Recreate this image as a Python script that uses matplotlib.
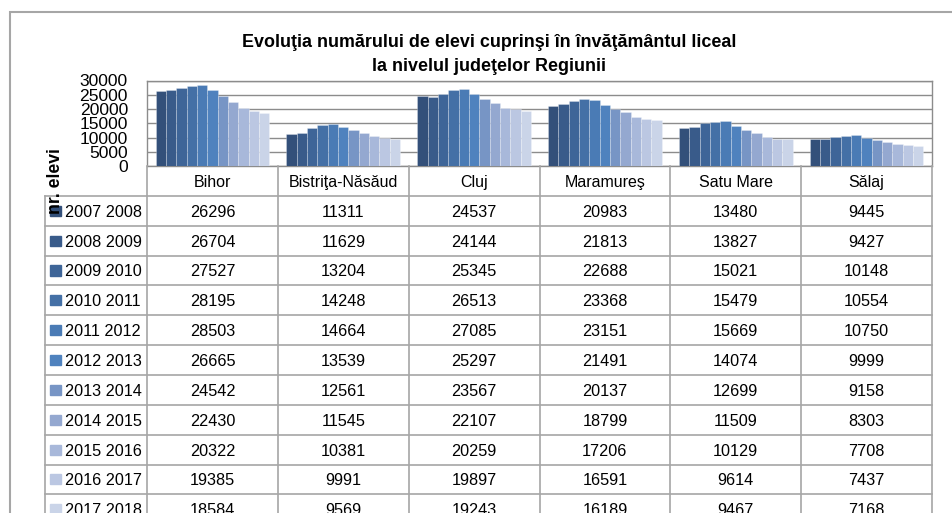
#!/usr/bin/env python3
"""Evolutia numarului de elevi din liceu pe judete - bar chart with data table."""

import numpy as np
import matplotlib.pyplot as plt
from matplotlib.patches import Rectangle

plt.rcParams["font.family"] = ["Liberation Sans", "DejaVu Sans"]

TITLE_1 = "Evoluţia numărului de elevi cuprinşi în învăţământul liceal"
TITLE_2 = "la nivelul judeţelor Regiunii"
YLABEL = "nr. elevi"

categories = ["Bihor", "Bistriţa-Năsăud", "Cluj", "Maramureş", "Satu Mare", "Sălaj"]
years = ["2007 2008", "2008 2009", "2009 2010", "2010 2011", "2011 2012",
         "2012 2013", "2013 2014", "2014 2015", "2015 2016", "2016 2017",
         "2017 2018"]

bihor = [26296, 26704, 27527, 28195, 28503, 26665, 24542, 22430, 20322, 19385, 18584]
bistrita = [11311, 11629, 13204, 14248, 14664, 13539, 12561, 11545, 10381, 9991, 9569]
cluj = [24537, 24144, 25345, 26513, 27085, 25297, 23567, 22107, 20259, 19897, 19243]
maramures = [20983, 21813, 22688, 23368, 23151, 21491, 20137, 18799, 17206, 16591, 16189]
satu_mare = [13480, 13827, 15021, 15479, 15669, 14074, 12699, 11509, 10129, 9614, 9467]
salaj = [9445, 9427, 10148, 10554, 10750, 9999, 9158, 8303, 7708, 7437, 7168]

colors = ["#33507a", "#395b8a", "#3e6598", "#4470a6", "#4a7bb5", "#4f82be",
          "#7795c5", "#94a8d0", "#a8b8da", "#bbc7e2", "#cad4e8"]

W, H = 952, 513
GRID = "#8c8c8c"
LINE = "#a6a6a6"


def fx(px):
    return px / W


def fy(py):
    return 1 - py / H


def main():
    values = np.array([bihor, bistrita, cluj, maramures, satu_mare, salaj]).T  # years x counties
    n_years, n_cat = values.shape

    fig = plt.figure(figsize=(W / 100, H / 100), dpi=100)

    # outer chart frame (runs off the right / bottom of the picture)
    fig.patches.append(Rectangle((fx(10), fy(540)), fx(968) - fx(10), fy(12) - fy(540),
                                 transform=fig.transFigure, fill=False,
                                 edgecolor=LINE, lw=1.5))

    # --- bars ---
    plot_l, plot_r, plot_t, plot_b = 147, 932, 80.5, 166
    ax = fig.add_axes([fx(plot_l), fy(plot_b), (plot_r - plot_l) / W, (plot_b - plot_t) / H])
    group_w = 0.87
    bar_w = group_w / n_years
    x = np.arange(n_cat) + 0.5
    for j in range(n_years):
        ax.bar(x + (j - (n_years - 1) / 2) * bar_w, values[j], width=bar_w,
               color=colors[j], edgecolor=(1, 1, 1, 0.3), linewidth=0.6, zorder=3)

    ax.set_xlim(0, n_cat)
    ax.set_ylim(0, 30000)
    ax.set_yticks(range(0, 30001, 5000))
    ax.set_xticks([])
    ax.tick_params(axis="y", length=0, pad=13.7, labelsize=12.6, colors="black")
    ax.yaxis.grid(True, color=GRID, lw=1)
    for sp in ax.spines.values():
        sp.set_color(GRID)
        sp.set_linewidth(1)

    # --- data table ---
    row_h = 29.85
    tab_l = 45
    n_rows = n_years + 1
    unit = (plot_r - plot_l) / n_cat
    leg_w = (plot_l - tab_l) / unit
    tab = fig.add_axes([fx(tab_l), fy(plot_b + n_rows * row_h),
                        (plot_r - tab_l) / W, n_rows * row_h / H])
    tab.set_xlim(-leg_w, n_cat)
    tab.set_ylim(n_rows, 0)
    tab.axis("off")

    for r in range(1, n_rows + 1):
        tab.plot([-leg_w, n_cat], [r, r], color=LINE, lw=1.2, clip_on=False)
    for c in range(n_cat + 1):
        tab.plot([c, c], [0, n_rows], color=LINE, lw=1.2, clip_on=False)
    tab.plot([-leg_w, -leg_w], [1, n_rows], color=LINE, lw=1.2, clip_on=False)

    for i, name in enumerate(categories):
        tab.text(i + 0.5, 0.55, name, ha="center", va="center", fontsize=11.5)

    for j in range(n_years):
        yc = j + 1.55
        tab.add_patch(Rectangle((-leg_w + 5 / unit, j + 1.5 - 0.17), 11 / unit, 0.34,
                                color=colors[j], clip_on=False))
        tab.text(-leg_w + 20 / unit, yc, years[j], ha="left", va="center", fontsize=11.7)
        for i in range(n_cat):
            tab.text(i + 0.5, yc, str(values[j, i]), ha="center", va="center", fontsize=11.7)

    # --- titles ---
    fig.text(fx(489), fy(43), TITLE_1, ha="center", va="center",
             fontsize=12.9, fontweight="bold")
    fig.text(fx(489), fy(67), TITLE_2, ha="center", va="center",
             fontsize=12.9, fontweight="bold")
    fig.text(fx(55), fy(181), YLABEL, rotation=90, ha="center", va="center",
             fontsize=12.7, fontweight="bold", zorder=10)

    fig.savefig("out.png", dpi=100)
    plt.close(fig)


if __name__ == "__main__":
    main()
